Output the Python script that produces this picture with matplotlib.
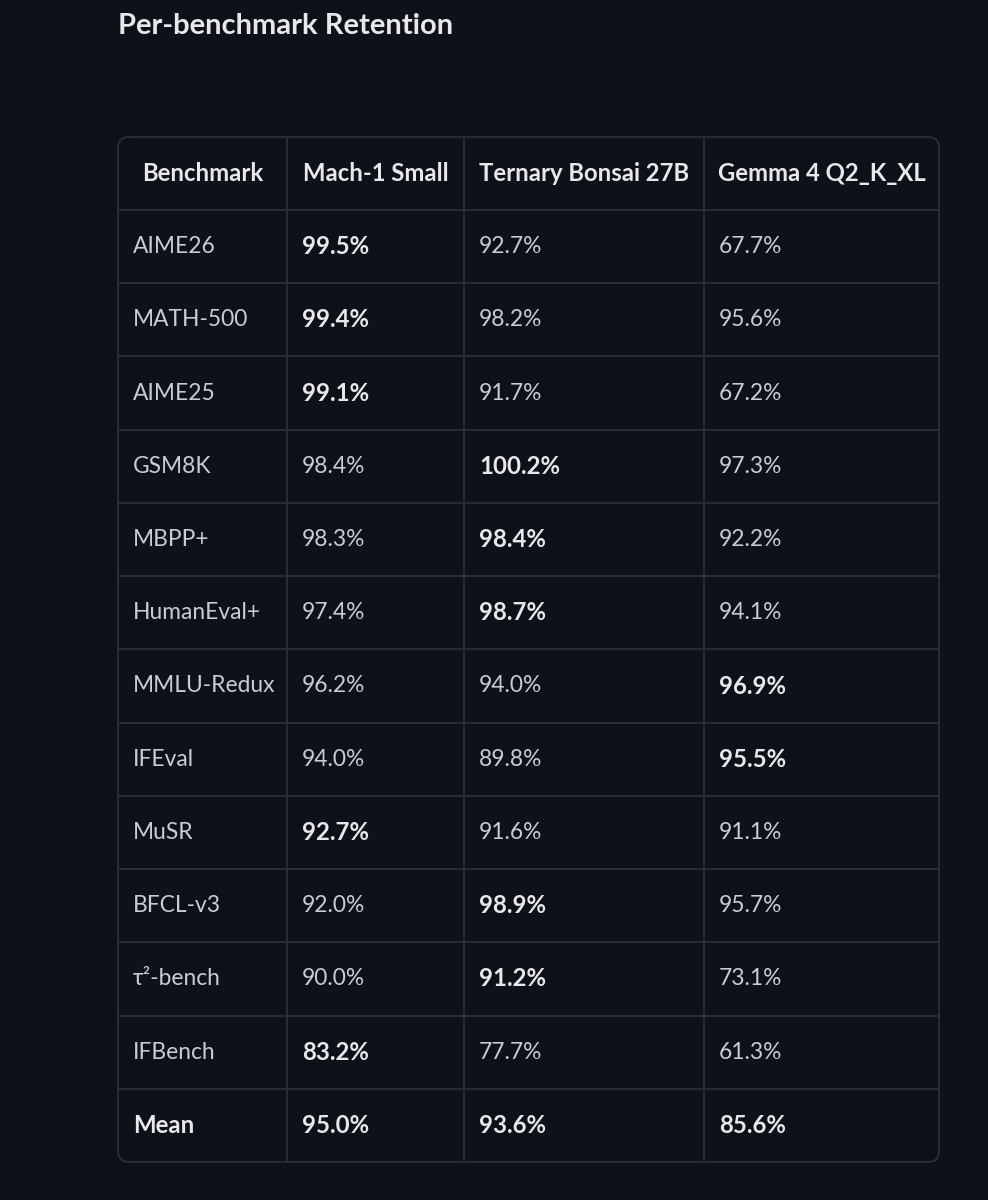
import matplotlib
matplotlib.use("Agg")
import matplotlib.pyplot as plt
from matplotlib.patches import FancyBboxPatch

# ---- data ----
title = "Per-benchmark Retention"
columns = ["Benchmark", "Mach-1 Small", "Ternary Bonsai 27B", "Gemma 4 Q2_K_XL"]
benchmarks = ["AIME26", "MATH-500", "AIME25", "GSM8K", "MBPP+", "HumanEval+",
              "MMLU-Redux", "IFEval", "MuSR", "BFCL-v3", "τ²-bench", "IFBench", "Mean"]
mach1 = [99.5, 99.4, 99.1, 98.4, 98.3, 97.4, 96.2, 94.0, 92.7, 92.0, 90.0, 83.2, 95.0]
bonsai = [92.7, 98.2, 91.7, 100.2, 98.4, 98.7, 94.0, 89.8, 91.6, 98.9, 91.2, 77.7, 93.6]
gemma = [67.7, 95.6, 67.2, 97.3, 92.2, 94.1, 96.9, 95.5, 91.1, 95.7, 73.1, 61.3, 85.6]

# ---- style ----
BG = "#0e1117"
LINE = "#2b2f38"
TXT = "#c9cdd3"
TXT_B = "#e6e8ec"
FAM = ["Lato", "DejaVu Sans"]

W, H = 988, 1200
fig = plt.figure(figsize=(W / 100, H / 100), dpi=100, facecolor=BG)
ax = fig.add_axes([0, 0, 1, 1])
ax.set_xlim(0, W)
ax.set_ylim(H, 0)
ax.axis("off")
ax.set_facecolor(BG)

# layout
col_edges = [118, 287, 464, 704, 939]
top, header_bottom, bottom = 137, 210, 1162
n = len(benchmarks)
row_h = (bottom - header_bottom) / n
pad = 15
FS = 16.4
FS_B = 17.3

ax.text(118, 26, title, color=TXT_B, fontsize=21, fontweight="bold",
        family=FAM, ha="left", va="center")

# outer rounded border
box = FancyBboxPatch((col_edges[0], top), col_edges[-1] - col_edges[0], bottom - top,
                     boxstyle="round,pad=0,rounding_size=11", fc=BG, ec=LINE, lw=1.3)
ax.add_patch(box)

# inner vertical lines
for x in col_edges[1:-1]:
    ax.plot([x, x], [top, bottom], color=LINE, lw=1.3, solid_capstyle="butt")
# horizontal lines
ax.plot([col_edges[0], col_edges[-1]], [header_bottom, header_bottom], color=LINE, lw=1.3)
for i in range(1, n):
    y = header_bottom + i * row_h
    ax.plot([col_edges[0], col_edges[-1]], [y, y], color=LINE, lw=1.3)

# header
for j, c in enumerate(columns):
    xc = (col_edges[j] + col_edges[j + 1]) / 2
    ax.text(xc, (top + header_bottom) / 2, c, color=TXT_B, fontsize=17.2,
            fontweight="bold", family=FAM, ha="center", va="center")

# rows
series = [mach1, bonsai, gemma]
for i, name in enumerate(benchmarks):
    yc = header_bottom + (i + 0.5) * row_h
    is_mean = name == "Mean"
    vals = [s[i] for s in series]
    best = max(vals)
    ax.text(col_edges[0] + pad, yc, name, color=TXT_B if is_mean else TXT,
            fontsize=FS_B if is_mean else FS, fontweight="bold" if is_mean else "normal",
            family=FAM, ha="left", va="center")
    for j, v in enumerate(vals):
        bold = is_mean or v == best
        ax.text(col_edges[j + 1] + pad, yc, f"{v:.1f}%",
                color=TXT_B if bold else TXT, fontsize=FS_B if bold else FS,
                fontweight="bold" if bold else "normal",
                family=FAM, ha="left", va="center")

fig.savefig("out.png", dpi=100, facecolor=BG)
